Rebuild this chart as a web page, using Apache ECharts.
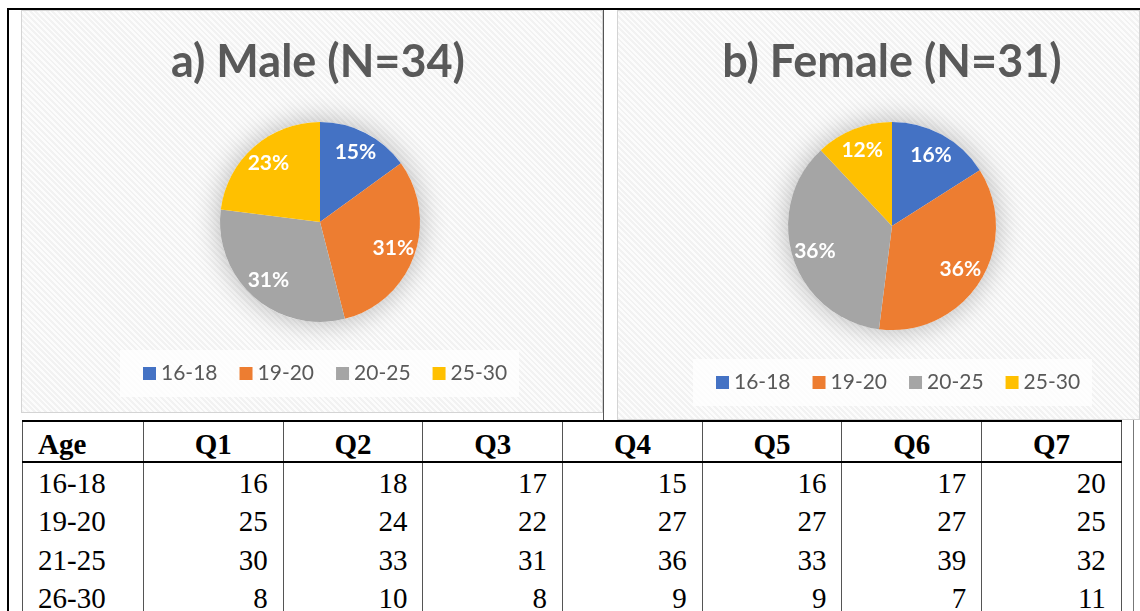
<!DOCTYPE html>
<html>
<head>
<meta charset="utf-8">
<script src="https://cdn.jsdelivr.net/npm/echarts@6/dist/echarts.min.js"></script>
<style>
  html, body { margin: 0; padding: 0; background: #fff; }
  #page { position: relative; width: 1140px; height: 611px; overflow: hidden; }
  .panel {
    position: absolute;
    box-sizing: border-box;
    border: 1px solid #d4d4d4;
    background: repeating-linear-gradient(45deg, #f2f2f2 0px, #f2f2f2 2px, #fcfcfc 2px, #fcfcfc 4px);
  }
  .rule { position: absolute; background: #000; }
  table.ages {
    position: absolute; left: 22px; top: 420px;
    border-collapse: collapse; table-layout: fixed;
    font-family: "Liberation Serif", "Times New Roman", serif; font-size: 29px; color: #000;
  }
  table.ages td, table.ages th {
    border-left: 1.5px solid #555; border-right: 1.5px solid #555;
    padding: 0 15px; line-height: 1; white-space: nowrap;
  }
  table.ages thead tr { height: 41px; }
  table.ages thead th { border-top: 2px solid #000; border-bottom: 2px solid #000; text-align: center; padding-top: 5px; }
  table.ages thead th:first-child { text-align: left; }
  table.ages tbody tr { height: 38.5px; }
  table.ages tbody td { text-align: right; padding-top: 4px; }
  table.ages tbody td:first-child { text-align: left; }
</style>
</head>
<body>
<div id="page">
  <div class="rule" style="left:7px;top:8px;width:1133px;height:2px"></div>
  <div class="rule" style="left:7px;top:8px;width:2px;height:603px"></div>
  <div class="rule" style="left:1138px;top:8px;width:2px;height:412px"></div>
  <div class="rule" style="left:603px;top:10px;width:1px;height:410px;background:#555"></div>
  <div class="rule" style="left:1133px;top:420px;width:1px;height:191px;background:#777"></div>

  <div class="panel" style="left:21px;top:10px;width:582px;height:403px"></div>
  <div class="panel" style="left:617px;top:10px;width:523px;height:410px"></div>
  <div id="male" style="position:absolute;left:21px;top:10px;width:582px;height:403px"></div>
  <div id="female" style="position:absolute;left:617px;top:10px;width:523px;height:410px"></div>

  <table class="ages" id="ages"></table>
</div>

<script>
// pie data (percent of respondents by age group)
const ageGroups = ['16-18', '19-20', '20-25', '25-30']
const malePct = [15, 31, 31, 23]
const femalePct = [16, 36, 36, 12]
const pieColors = ['#4472C4', '#ED7D31', '#A5A5A5', '#FFC000']

// table data
const tableHeader = ['Age', 'Q1', 'Q2', 'Q3', 'Q4', 'Q5', 'Q6', 'Q7']
const rowAges = ['16-18', '19-20', '21-25', '26-30']
const row1618 = [16, 18, 17, 15, 16, 17, 20]
const row1920 = [25, 24, 22, 27, 27, 27, 25]
const row2125 = [30, 33, 31, 36, 33, 39, 32]
const row2630 = [8, 10, 8, 9, 9, 7, 11]

const font = 'Lato, "Open Sans", sans-serif'

function pieOption({ title, titleX, values, center, r, legendLeft, legendTop }) {
  let data = ageGroups.map((name, i) => ({ name: name, value: values[i] }))
  let total = values.reduce((a, b) => a + b, 0)
  return {
    color: pieColors,
    animation: false,
    title: {
      text: title,
      left: titleX,
      top: 25,
      textAlign: 'center',
      textStyle: { fontFamily: font, fontSize: 45, fontWeight: 'bold', color: '#595959' }
    },
    legend: {
      data: ageGroups,
      left: legendLeft,
      top: legendTop,
      padding: [13, 12, 13, 23],
      backgroundColor: 'rgba(255,255,255,0.75)',
      icon: 'rect',
      itemWidth: 13,
      itemHeight: 13,
      itemGap: 22,
      selectedMode: false,
      textStyle: { fontFamily: font, fontSize: 21, color: '#595959' }
    },
    series: [
      {
        // soft shadow behind the whole pie
        type: 'pie',
        z: 1,
        silent: true,
        center: center,
        radius: [0, r],
        label: { show: false },
        itemStyle: { color: '#fff', shadowBlur: 28, shadowColor: 'rgba(0,0,0,0.28)' },
        data: [{ name: 'total', value: total }]
      },
      {
        type: 'pie',
        z: 2,
        center: center,
        radius: [0, r],
        startAngle: 90,
        clockwise: true,
        label: { show: false },
        labelLine: { show: false },
        itemStyle: { borderWidth: 0 },
        data: data
      },
      {
        // transparent ring only used to place the labels at 3/4 radius
        type: 'pie',
        z: 3,
        silent: true,
        center: center,
        radius: [r * 0.5, r],
        startAngle: 90,
        clockwise: true,
        itemStyle: { color: 'rgba(0,0,0,0)' },
        label: {
          show: true,
          position: 'inside',
          formatter: '{c}%',
          color: '#fff',
          fontFamily: font,
          fontSize: 21,
          fontWeight: 'bold'
        },
        labelLine: { show: false },
        data: data
      }
    ]
  }
}

let maleChart = echarts.init(document.getElementById('male'))
maleChart.setOption(pieOption({
  title: 'a) Male (N=34)', titleX: 292, values: malePct,
  center: [299, 212], r: 100, legendLeft: 99, legendTop: 340
}))

let femaleChart = echarts.init(document.getElementById('female'))
femaleChart.setOption(pieOption({
  title: 'b) Female (N=31)', titleX: 270, values: femalePct,
  center: [275, 216], r: 104, legendLeft: 76, legendTop: 349
}))

// table
let widths = [121, 139.7, 139.7, 139.7, 139.7, 139.7, 139.7, 139.7]
let html = '<colgroup>' + widths.map(w => '<col style="width:' + w + 'px">').join('') + '</colgroup>'
html += '<thead><tr>' + tableHeader.map(h => '<th>' + h + '</th>').join('') + '</tr></thead><tbody>'
let rows = [row1618, row1920, row2125, row2630]
rows.forEach((row, i) => {
  html += '<tr><td>' + rowAges[i] + '</td>' + row.map(v => '<td>' + v + '</td>').join('') + '</tr>'
})
html += '</tbody>'
document.getElementById('ages').innerHTML = html
</script>
</body>
</html>
